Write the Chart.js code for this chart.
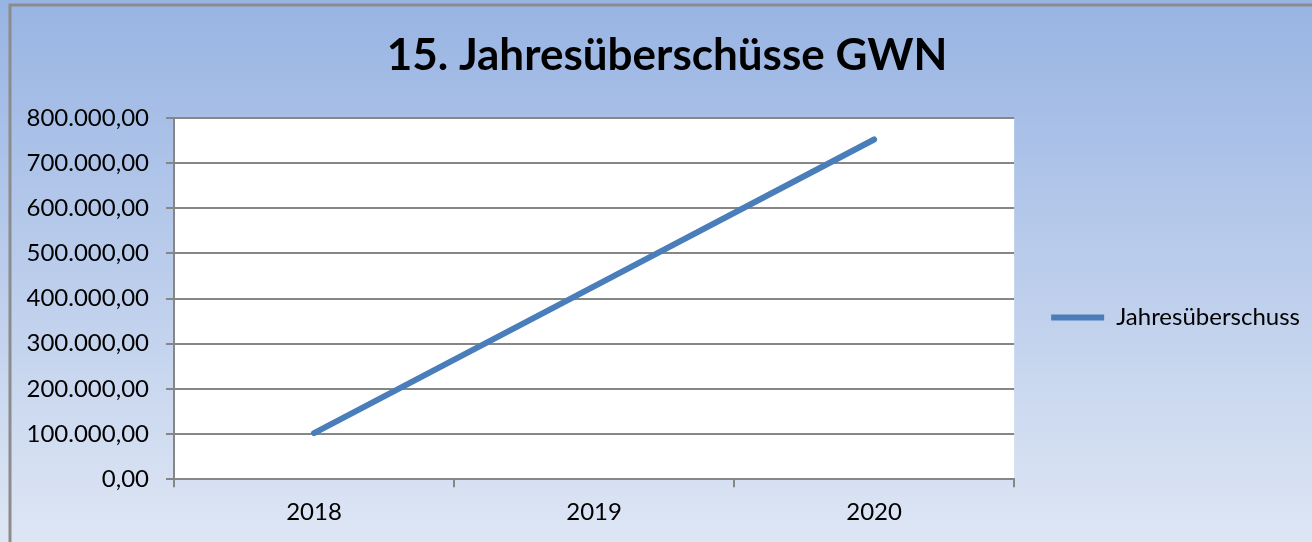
<!DOCTYPE html>
<html>
<head>
<meta charset="utf-8">
<script src="https://cdn.jsdelivr.net/npm/chart.js@4/dist/chart.umd.min.js"></script>
<style>
  html, body { margin: 0; padding: 0; background: #fff; }
  canvas { display: block; }
</style>
</head>
<body>
<canvas id="myChart" width="1312" height="542"></canvas>
<script>
const years = ["2018", "2019", "2020"];
const surplus = [102000, 427000, 752000];
const yTickLabels = [
  "0,00", "100.000,00", "200.000,00", "300.000,00", "400.000,00",
  "500.000,00", "600.000,00", "700.000,00", "800.000,00",
];

const FONT = "Lato, 'Open Sans', sans-serif";

// gradient panel, frame and white plot area behind the chart
const panelBackground = {
  id: "panelBackground",
  beforeDraw: (chart) => {
    const { ctx, chartArea } = chart;
    ctx.save();
    const grad = ctx.createLinearGradient(0, 0, 0, chart.height);
    grad.addColorStop(0, "#98b4e3");
    grad.addColorStop(1, "#dee6f4");
    ctx.fillStyle = grad;
    ctx.fillRect(0, 0, chart.width, chart.height);
    ctx.strokeStyle = "#8c8c8c";
    ctx.lineWidth = 3;
    ctx.beginPath();
    ctx.moveTo(10, chart.height);
    ctx.lineTo(10, 5);
    ctx.lineTo(chart.width, 5);
    ctx.stroke();
    ctx.fillStyle = "#ffffff";
    ctx.fillRect(chartArea.left, chartArea.top, chartArea.right - chartArea.left, chartArea.bottom - chartArea.top);
    ctx.restore();
  },
};

const ctx = document.getElementById("myChart");

new Chart(ctx, {
  type: "line",
  data: {
    labels: years,
    datasets: [
      {
        label: "Jahresüberschuss",
        data: surplus,
        borderColor: "#4a7ebb",
        backgroundColor: "#4a7ebb",
        borderWidth: 6,
        borderCapStyle: "round",
        pointRadius: 0,
        pointHoverRadius: 0,
        tension: 0,
      },
    ],
  },
  options: {
    responsive: false,
    animation: false,
    devicePixelRatio: 1,
    layout: {
      padding: { top: 4, right: 2, bottom: 4, left: 24 },
    },
    plugins: {
      title: {
        display: true,
        text: "15. Jahresüberschüsse GWN",
        color: "#000",
        font: { family: FONT, size: 44, weight: "bold" },
        padding: { top: 25, bottom: 36 },
      },
      legend: {
        position: "right",
        // empty title only pushes the entry down a little
        title: {
          display: true,
          text: "",
          font: { size: 1 },
          padding: { top: 92, bottom: 0 },
        },
        labels: {
          usePointStyle: true,
          pointStyle: "line",
          pointStyleWidth: 53,
          color: "#000",
          font: { family: FONT, size: 24 },
          padding: 37,
        },
      },
      tooltip: { enabled: false },
    },
    scales: {
      x: {
        offset: true,
        grid: {
          offset: true,
          drawOnChartArea: false,
          color: "#868686",
          lineWidth: 2,
          tickLength: 8,
        },
        border: { color: "#868686", width: 2 },
        ticks: {
          color: "#000",
          font: { family: FONT, size: 24 },
          padding: 11,
        },
      },
      y: {
        min: 0,
        max: 800000,
        afterFit: (scale) => {
          scale.width = 150;
        },
        grid: {
          color: "#868686",
          lineWidth: 2,
          tickLength: 8,
        },
        border: { color: "#868686", width: 2 },
        ticks: {
          stepSize: 100000,
          color: "#000",
          font: { family: FONT, size: 24 },
          padding: 17,
          callback: (value, index) => yTickLabels[index],
        },
      },
    },
  },
  plugins: [panelBackground],
});
</script>
</body>
</html>
